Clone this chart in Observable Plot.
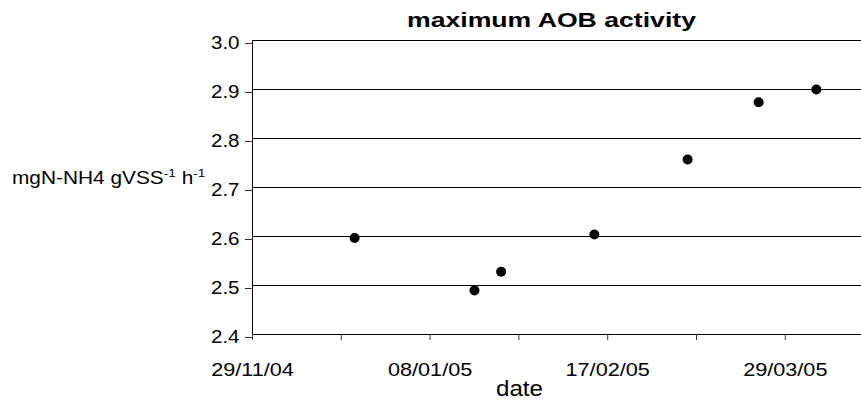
<!DOCTYPE html>
<html>
<head>
<meta charset="utf-8">
<script src="https://cdn.jsdelivr.net/npm/d3@7"></script>
<script src="https://cdn.jsdelivr.net/npm/@observablehq/plot@0.6"></script>
<style>
html, body { margin: 0; padding: 0; background: #fff; }
#wrap { position: relative; width: 861px; height: 401px; overflow: hidden; font-family: "Liberation Sans", Arial, sans-serif; color: #000; }
#wrap svg { position: absolute; left: 0; top: 0; }
.lbl { position: absolute; white-space: nowrap; line-height: 1; transform-origin: 0 0; }
.sup { position: relative; top: -7px; font-size: 11.5px; }
</style>
</head>
<body>
<div id="wrap"></div>
<script>
// ---- data ----
const dates = ["2004-12-22", "2005-01-18", "2005-01-24", "2005-02-14", "2005-03-07", "2005-03-23", "2005-04-05"];
const activity = [2.597, 2.490, 2.528, 2.604, 2.757, 2.874, 2.900];
const xTickDates = ["2004-11-29", "2004-12-19", "2005-01-08", "2005-01-28", "2005-02-17", "2005-03-09", "2005-03-29"];
const xTickLabels = ["29/11/04", "", "08/01/05", "", "17/02/05", "", "29/03/05"];
const yTicks = [2.4, 2.5, 2.6, 2.7, 2.8, 2.9, 3.0];
const xDomain = ["2004-11-29", "2005-04-15T04:00"];
const titleText = "maximum AOB activity";
const xLabelText = "date";

const parse = s => new Date(s + (s.length === 10 ? "T00:00:00Z" : ":00Z"));
const data = dates.map((d, i) => ({date: parse(d), value: activity[i]}));
const tickDates = xTickDates.map(parse);
const tickLabelMap = new Map(tickDates.map((d, i) => [d.getTime(), xTickLabels[i]]));

const chart = Plot.plot({
  width: 861,
  height: 401,
  marginLeft: 252,
  marginRight: 0,
  marginTop: 40,
  marginBottom: 67,
  style: {fontFamily: '"Liberation Sans", Arial, sans-serif', color: "#000", background: "transparent"},
  x: {type: "utc", domain: xDomain.map(parse)},
  y: {domain: [2.4, 3.0]},
  marks: [
    Plot.ruleY(yTicks, {stroke: "#000", strokeWidth: 1}),
    Plot.ruleX([parse(xDomain[0])], {y1: 2.4, y2: 3.0, stroke: "#000"}),
    Plot.axisY({ticks: yTicks, tickSize: 7, tickPadding: 6, tickFormat: d => d.toFixed(1), fontSize: 18, dy: 3, label: null, stroke: "#333"}),
    Plot.axisX({ticks: tickDates, tickSize: 6, tickPadding: 22, tickFormat: d => tickLabelMap.get(d.getTime()) ?? "", fontSize: 19, label: null, stroke: "#333"}),
    Plot.dot(data, {x: "date", y: "value", r: 5, fill: "#000", stroke: null})
  ]
});

const wrap = document.getElementById("wrap");
wrap.appendChild(chart);

// stretch tick labels horizontally (reference text is rendered wide)
chart.querySelectorAll('g[aria-label$="tick label"] text').forEach(t => {
  const w = t.getComputedTextLength();
  if (w > 0) {
    t.setAttribute("textLength", (w * 1.14).toFixed(2));
    t.setAttribute("lengthAdjust", "spacingAndGlyphs");
  }
});

function addLabel(html, style, targetWidth) {
  const el = document.createElement("div");
  el.className = "lbl";
  el.innerHTML = html;
  Object.assign(el.style, style);
  wrap.appendChild(el);
  const w = el.getBoundingClientRect().width;
  el.style.transform = `scaleX(${targetWidth / w})`;
  return el;
}

addLabel(titleText, {fontWeight: "bold", fontSize: "19.5px", left: "407px", top: "10.5px"}, 289);
addLabel('mgN-NH4 gVSS<span class="sup">-1</span> h<span class="sup">-1</span>', {fontSize: "17.5px", left: "11.7px", top: "169.5px"}, 193.5);
addLabel(xLabelText, {fontSize: "22px", left: "496px", top: "378px"}, 47);
</script>
</body>
</html>
